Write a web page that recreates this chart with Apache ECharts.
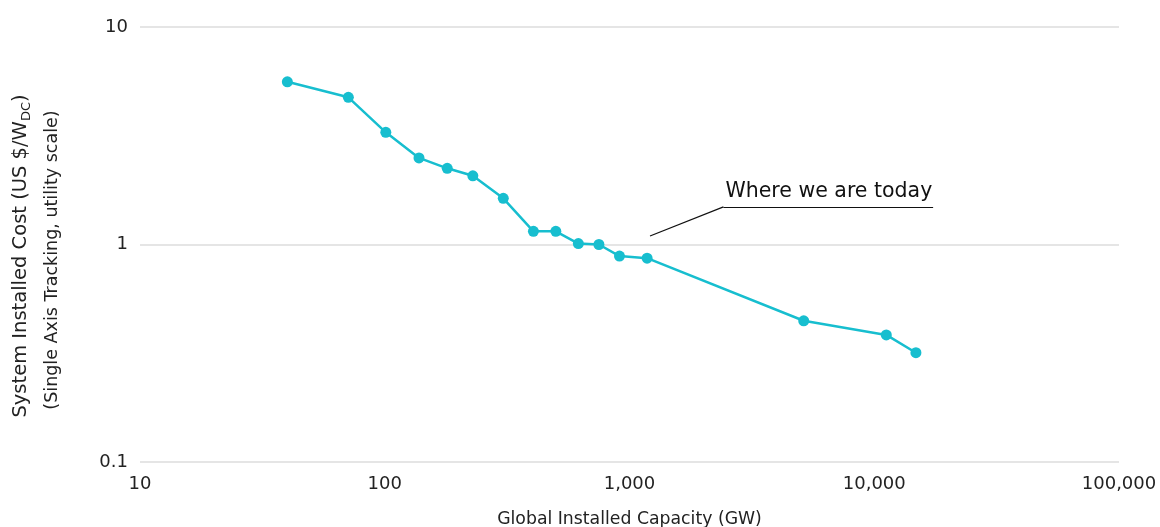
<!DOCTYPE html>
<html><head><meta charset="utf-8">
<script src="https://cdn.jsdelivr.net/npm/echarts@6/dist/echarts.min.js"></script>
<style>html,body{margin:0;padding:0;background:#fff}#c{width:1160px;height:527px}</style>
</head><body><div id="c"></div>
<script>
// Global installed capacity (GW) and system installed cost (US $/W DC)
const capacity = [40, 71, 101, 138, 180, 229, 305, 405, 500, 618, 750, 910, 1180, 5150, 11200, 14800];
const cost = [5.6, 4.75, 3.28, 2.5, 2.24, 2.07, 1.63, 1.15, 1.15, 1.01, 1.0, 0.885, 0.865, 0.446, 0.384, 0.318];
const xTicks = [10, 100, 1000, 10000, 100000];
const yTicks = [0.1, 1, 10];
// Annotation path in data coordinates
const annoPath = [[1213, 1.094], [2420, 1.49], [17400, 1.49]];
const annoText = 'Where we are today';

const chart = echarts.init(document.getElementById('c'));
const fmt = v => Math.round(v).toLocaleString('en-US');
const txt = '#222';
chart.setOption({
  animation: false,
  grid: {left: 140, right: 41, top: 27, bottom: 65, outerBoundsMode: 'none', containLabel: false},
  xAxis: {
    type: 'log', logBase: 10, min: xTicks[0], max: xTicks[xTicks.length - 1],
    name: 'Global Installed Capacity (GW)', nameLocation: 'middle', nameGap: 49,
    nameTextStyle: {fontFamily: 'DejaVu Sans', fontSize: 17.3, color: txt},
    axisLine: {show: false}, axisTick: {show: false}, splitLine: {show: false},
    axisLabel: {formatter: fmt, fontFamily: 'DejaVu Sans', fontSize: 18, color: txt, margin: 13}
  },
  yAxis: {
    type: 'log', logBase: 10, min: yTicks[0], max: yTicks[yTicks.length - 1],
    axisLine: {show: false}, axisTick: {show: false},
    splitLine: {lineStyle: {color: '#dcdcdc', width: 1.5}},
    axisLabel: {formatter: v => String(v), fontFamily: 'DejaVu Sans', fontSize: 18, color: txt, margin: 12}
  },
  series: [{
    type: 'line',
    data: capacity.map((c, i) => [c, cost[i]]),
    symbol: 'circle', symbolSize: 11,
    lineStyle: {color: '#17becf', width: 2.5},
    itemStyle: {color: '#17becf'},
    markLine: {
      silent: true, symbol: 'none', animation: false,
      lineStyle: {color: '#111', width: 1.2, type: 'solid'},
      label: {show: false},
      data: [
        [{coord: annoPath[0]}, {coord: annoPath[1]}],
        [{coord: annoPath[1]}, {coord: annoPath[2]}]
      ]
    }
  }]
});
const p = chart.convertToPixel({gridIndex: 0}, annoPath[1]);
chart.setOption({
  graphic: [
    {
      id: 'ytitle1', type: 'text', x: 21, y: 256, rotation: Math.PI / 2,
      style: {
        text: '{a|System Installed Cost (US $/W}{s|DC}{a|)}',
        textAlign: 'center', textVerticalAlign: 'middle',
        rich: {
          a: {fontFamily: 'DejaVu Sans', fontSize: 19.5, fill: txt, lineHeight: 24},
          s: {fontFamily: 'DejaVu Sans', fontSize: 13, fill: txt, verticalAlign: 'bottom', lineHeight: 18}
        }
      }
    },
    {
      id: 'ytitle2', type: 'text', x: 52, y: 260, rotation: Math.PI / 2,
      style: {
        text: '(Single Axis Tracking, utility scale)',
        textAlign: 'center', textVerticalAlign: 'middle',
        fontFamily: 'DejaVu Sans', fontSize: 17.5, fill: txt
      }
    },
    {
      id: 'anno', type: 'text', x: p[0] + 2, y: p[1] - 5, rotation: 0,
      style: {text: annoText, fontFamily: 'DejaVu Sans', fontSize: 20.5, fill: '#111', textVerticalAlign: 'bottom'}
    }
  ]
});
</script></body></html>
